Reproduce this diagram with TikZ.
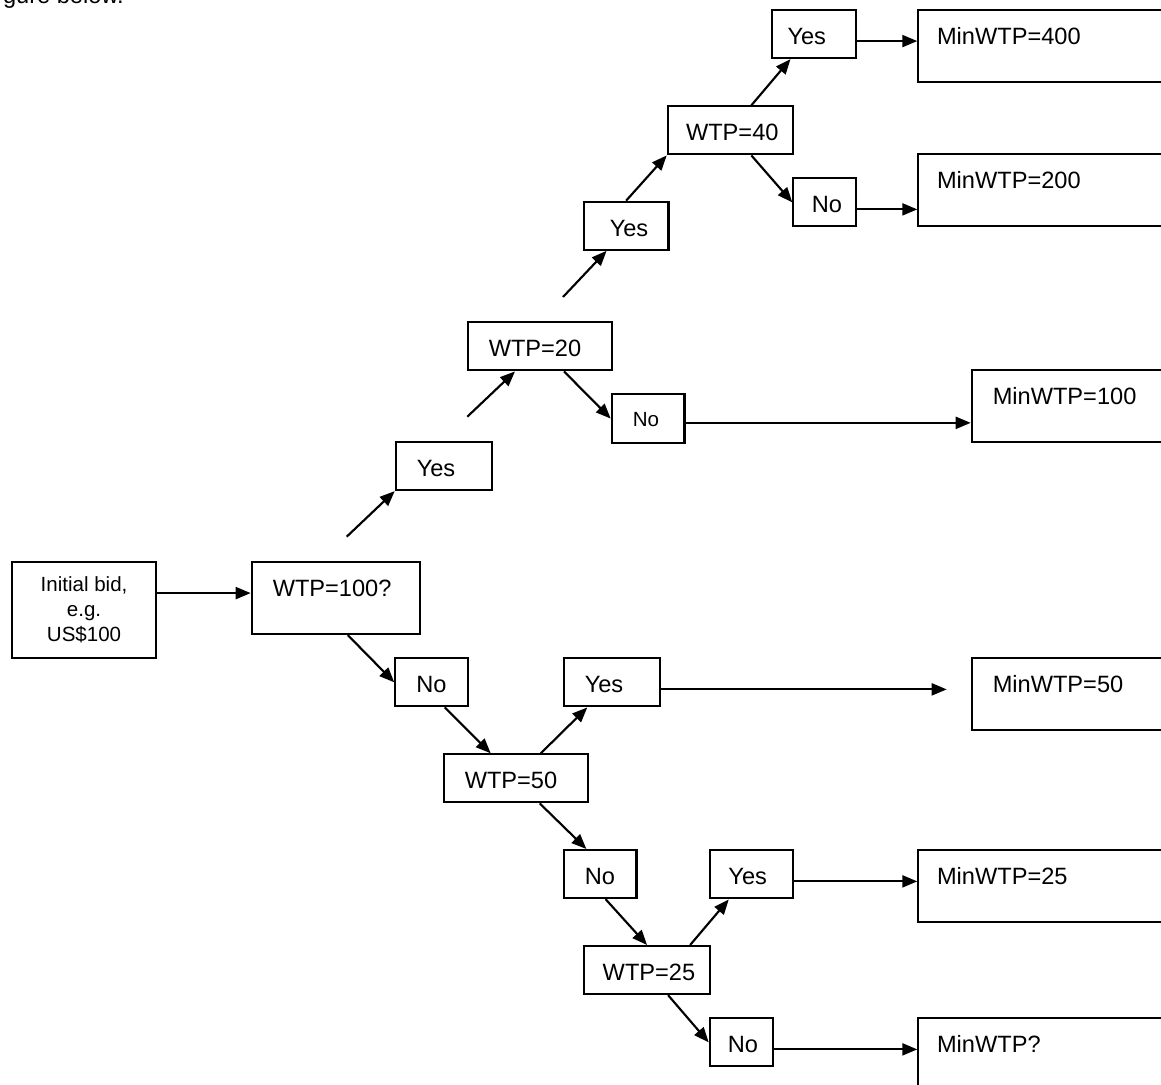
\documentclass[tikz,border=0pt]{standalone}
\usepackage{fontspec}
\setmainfont{Liberation Sans}
\usetikzlibrary{arrows.meta,calc}

\tikzset{every picture/.style={line width=1.6pt}}
\tikzset{
    padl/.store in=\blkpad,
    blk/.style={draw, anchor=north west, inner sep=0pt, text width=#1, align=left, padl=15.75pt,
        font=\fontsize{17.7}{21.2}\selectfont, text height=25.9pt, text depth=10.1pt,
        execute at begin node={\hspace*{\blkpad}}},
    tall/.style={text depth=28.1pt},
    arr/.style={-{Triangle[length=11.25pt,width=9pt]}}
}

\begin{document}
\begin{tikzpicture}[x=0.75pt,y=0.75pt,yscale=-1,xscale=1]
    \useasboundingbox (0,0) rectangle (1161,1085);
    \clip (0,0) rectangle (1161,1085);
    \node [anchor=base west, inner sep=0pt, font=\fontsize{17.7}{21.2}\selectfont] (cap) at (2,3.5) {gure below.};
    % boxes
    \node [draw, anchor=north west, inner sep=0pt, minimum width=108pt, minimum height=72pt, align=center,
        font=\fontsize{15.4}{18.75}\selectfont] (init) at (11,561) {Initial bid,\\e.g.\\US\$100};
    \node [blk=126.2pt, tall] (w100) at (250.7,561) {WTP=100?};
    \node [blk=72.2pt] (yes1) at (394.7,441) {Yes};
    \node [blk=108.2pt] (w20) at (466.7,321.3) {WTP=20};
    \node [blk=54.5pt, font=\fontsize{15.4}{18}\selectfont, text height=24pt, text depth=12.3pt] (no20) at (610.7,393.3) {No};
    \node [blk=150pt, tall] (min100) at (970.7,369) {MinWTP=100};
    \node [blk=63.5pt, padl=19.5pt] (yes20) at (582.7,200.7) {Yes};
    \node [blk=94.2pt, padl=13.7pt] (w40) at (666.7,105.3) {WTP=40};
    \node [blk=63pt, padl=11.8pt] (yes40) at (770.7,9) {Yes};
    \node [blk=190pt, tall, padl=14pt] (min400) at (917.3,9) {MinWTP=400};
    \node [blk=47pt, padl=13.8pt] (no40) at (792.3,177.3) {No};
    \node [blk=190pt, tall, padl=14pt] (min200) at (917.3,153.3) {MinWTP=200};
    \node [blk=54.5pt] (no100) at (394.3,657.3) {No};
    \node [blk=108.2pt] (w50) at (442.7,753.3) {WTP=50};
    \node [blk=72.2pt] (yes50) at (562.7,657.3) {Yes};
    \node [blk=150pt, tall] (min50) at (970.7,657.3) {MinWTP=50};
    \node [blk=54.5pt] (no50) at (562.7,849) {No};
    \node [blk=94.5pt, padl=14pt] (w25) at (583,945) {WTP=25};
    \node [blk=62.7pt, padl=14pt] (yes25) at (708.7,849.3) {Yes};
    \node [blk=190pt, tall, padl=14pt] (min25) at (917.3,849.3) {MinWTP=25};
    \node [blk=47.2pt, padl=13.5pt] (no25) at (708.7,1017.3) {No};
    \node [blk=190pt, text depth=50pt, padl=14pt] (minq) at (917.3,1017.3) {MinWTP?};
    % free ends
    \coordinate (t100) at (346.7,536.7);
    \coordinate (t20) at (467.3,416.7);
    \coordinate (t40) at (563,297);
    \coordinate (h50) at (946.7,683);
    % horizontal arrows
    \draw [arr] (init.east |- w100.mid west) -- (w100.mid west);
    \draw [arr] (yes40.mid east) -- (yes40.mid east -| min400.west);
    \draw [arr] (no40.mid east) -- (no40.mid east -| min200.west);
    \draw [arr] (no20.mid east) -- (no20.mid east -| min100.west);
    \draw [arr] (yes50.mid east) -- (yes50.mid east -| h50);
    \draw [arr] (yes25.mid east) -- (yes25.mid east -| min25.west);
    \draw [arr] (no25.mid east) -- (no25.mid east -| minq.west);
    % yes branch
    \draw [arr] (t100) -- (yes1.south west);
    \draw [arr] (t20) -- ($(w20.south west)!0.33!(w20.south east)$);
    \draw [arr] (t40) -- ($(yes20.south west)!0.275!(yes20.south east)$);
    \draw [arr] (yes20.north) -- (w40.south west);
    \draw [arr] ($(w40.north west)!0.663!(w40.north east)$) -- ($(yes40.south west)!0.23!(yes40.south east)$);
    \draw [arr] ($(w40.south west)!0.663!(w40.south east)$) -- (no40.west);
    \draw [arr] ($(w20.south west)!0.665!(w20.south east)$) -- (no20.west);
    % no branch
    \draw [arr] ($(w100.south west)!0.57!(w100.south east)$) -- (no100.west);
    \draw [arr] ($(no100.south west)!0.674!(no100.south east)$) -- ($(w50.north west)!0.328!(w50.north east)$);
    \draw [arr] ($(w50.north west)!0.67!(w50.north east)$) -- ($(yes50.south west)!0.25!(yes50.south east)$);
    \draw [arr] ($(w50.south west)!0.663!(w50.south east)$) -- ($(no50.north west)!0.317!(no50.north east)$);
    \draw [arr] ($(no50.south west)!0.573!(no50.south east)$) -- (w25.north);
    \draw [arr] ($(w25.north west)!0.836!(w25.north east)$) -- ($(yes25.south west)!0.234!(yes25.south east)$);
    \draw [arr] ($(w25.south west)!0.664!(w25.south east)$) -- (no25.west);
\end{tikzpicture}
\end{document}
